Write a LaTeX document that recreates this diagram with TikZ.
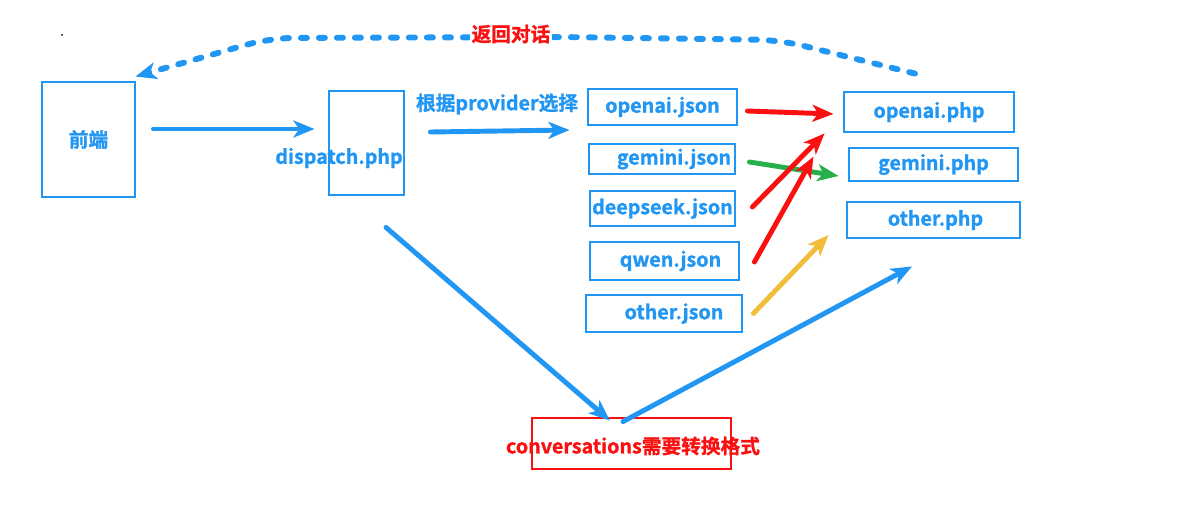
\documentclass[tikz,border=0pt]{standalone}
\usepackage{fontspec}
\setmainfont{Noto Sans CJK SC}[BoldFont={Noto Sans CJK SC Bold}, BoldFeatures={FakeBold=1.2}]
\usetikzlibrary{arrows.meta}
\definecolor{lineblue}{RGB}{33,150,243}
\definecolor{linered}{RGB}{250,16,16}
\definecolor{linegreen}{RGB}{38,176,74}
\definecolor{lineyellow}{RGB}{240,190,58}

\begin{document}
\begin{tikzpicture}[x=0.025cm, y=-0.025cm, font=\fontsize{14}{16}\selectfont\bfseries]
\tikzstyle{filebox} = [rectangle, draw = lineblue, line width = 2pt, inner sep = 0pt, text = lineblue]
\tikzstyle{redbox} = [rectangle, draw = linered, line width = 2pt, inner sep = 0pt]
\tikzstyle{flow} = [-{Stealth[length=15pt, width=12pt, inset=4pt]}, line width = 3.5pt, line cap = round]
\useasboundingbox (0,0) rectangle (1198,525);
\fill (62,35) circle (1);
\node[filebox, minimum width = 2.325cm, minimum height = 2.875cm] (front) at (88.5,139.5) {前端};
\node[filebox, minimum width = 1.875cm, minimum height = 2.6cm] (dispatch) at (366.5,143) {};
\node[text = lineblue] (dispatchlabel) at (339,158) {dispatch.php};
\node[text = lineblue] (choose) at (497,104) {根据provider选择};
\node[filebox, minimum width = 3.725cm, minimum height = 0.9cm] (openaij) at (662.5,107) {openai.json};
\node[filebox, minimum width = 3.65cm, minimum height = 0.75cm] (geminij) at (662,159) {\hspace{0.6cm}gemini.json};
\node[filebox, minimum width = 3.625cm, minimum height = 0.875cm] (deepseekj) at (662.5,208.5) {deepseek.json};
\node[filebox, minimum width = 3.725cm, minimum height = 0.95cm] (qwenj) at (664.5,261) {\hspace{0.3cm}qwen.json};
\node[filebox, minimum width = 3.9cm, minimum height = 0.925cm] (otherj) at (664,313.5) {\hspace{0.5cm}other.json};
\node[filebox, minimum width = 4.25cm, minimum height = 1.0cm] (openaip) at (929,112) {openai.php};
\node[filebox, minimum width = 4.225cm, minimum height = 0.825cm] (geminip) at (933.5,164.5) {gemini.php};
\node[filebox, minimum width = 4.325cm, minimum height = 0.9cm] (otherp) at (933.5,220) {\hspace{0.1cm}other.php};
\node[redbox, minimum width = 4.975cm, minimum height = 1.275cm] (conv) at (631.5,443.5) {};
\node[text = linered] (convlabel) at (633,446) {conversations需要转换格式};
\draw[flow, lineblue] ([shift={(17,-10.5)}]front.east) -- ([shift={(-13,-14)}]dispatch.west);
\draw[flow, lineblue] ([shift={(25,-11)}]dispatch.east) -- ([shift={(-17,23)}]openaij.west);
\draw[flow, linered] ([shift={(9,4)}]openaij.east) -- ([shift={(-9,2)}]openaip.west);
\draw[flow, linegreen] ([shift={(13,3)}]geminij.east) -- ([shift={(-9,11.5)}]geminip.west);
\draw[flow, linered] ([shift={(16,-1.5)}]deepseekj.east) -- ([shift={(-18,0)}]openaip.south west);
\draw[flow, linered] ([shift={(14,1)}]qwenj.east) -- ([shift={(-34,10)}]geminip.north west);
\draw[flow, lineyellow] ([shift={(10,0)}]otherj.east) -- ([shift={(-17,15)}]otherp.west);
\draw[flow, lineblue] ([shift={(19.5,31)}]dispatch.south) -- ([shift={(-21.5,4)}]conv.north);
\draw[flow, lineblue] ([shift={(-8.5,5)}]conv.north) -- ([shift={(-21.5,27)}]otherp.south);
\draw[flow, lineblue, line width = 4.2pt, dash pattern = on 4.3pt off 8.5pt, rounded corners = 0.6cm] ([shift={(-14,-17)}]openaip.north) -- (780,40) -- (560,37) -- (270,38) -- ([shift={(-1,-4)}]front.north east);
\node[text = linered, fill = white, inner sep = 1pt] (back) at (511,34) {返回对话};
\end{tikzpicture}
\end{document}
